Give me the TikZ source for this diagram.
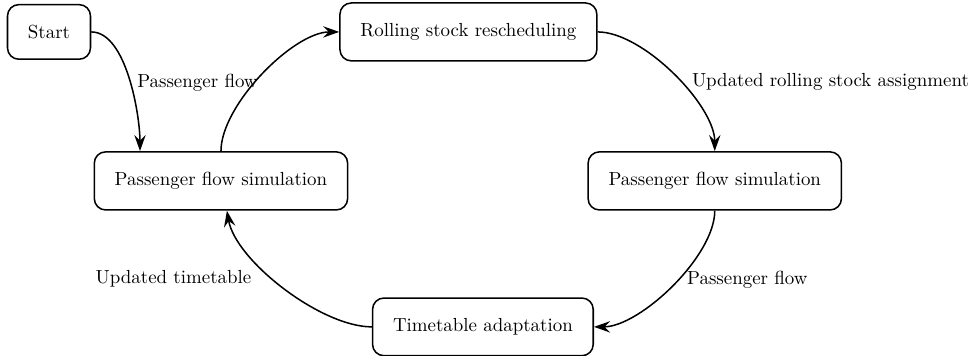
\documentclass[tikz,border=0pt]{standalone}
\usepackage{tikz}
\usetikzlibrary{positioning,arrows.meta}

\begin{document}
\begin{tikzpicture}[
      state/.style={draw, rectangle, rounded corners=6pt, inner sep=10.8pt, thick},
      arr/.style={thick, -{Stealth[length=8.5pt, width=6pt, inset=3pt]}, looseness=0.7},
    ]
    \useasboundingbox (0,0) rectangle (18.09,6.61);
    \node[state] (start) at (0.91,6.017) {Start};
    \node[state, right=4.605cm of start] (resched) {Rolling stock rescheduling};
    \node[state] (simL) at (4.104,3.25) {Passenger flow simulation};
    \node[state, right=4.438cm of simL] (simR) {Passenger flow simulation};
    \node[state] (adapt) at (8.969,0.539) {Timetable adaptation};
    \draw[arr] (start.east) to[out=0, in=90] node[pos=0.53, right] {Passenger flow} ([xshift=-1.504cm]simL.north);
    \draw[arr] (simL.north) to[out=90, in=180] (resched.west);
    \draw[arr] (resched.east) to[out=0, in=90] node[pos=0.55, right=2.5pt] {Updated rolling stock assignment} (simR.north);
    \draw[arr] (simR.south) to[out=-90, in=0] node[pos=0.46, right=1.5pt] {Passenger flow} (adapt.east);
    \draw[arr] (adapt.west) to[out=180, in=-80] node[pos=0.56, left=8pt] {Updated timetable} ([xshift=0.11cm]simL.south);
  \end{tikzpicture}
\end{document}
